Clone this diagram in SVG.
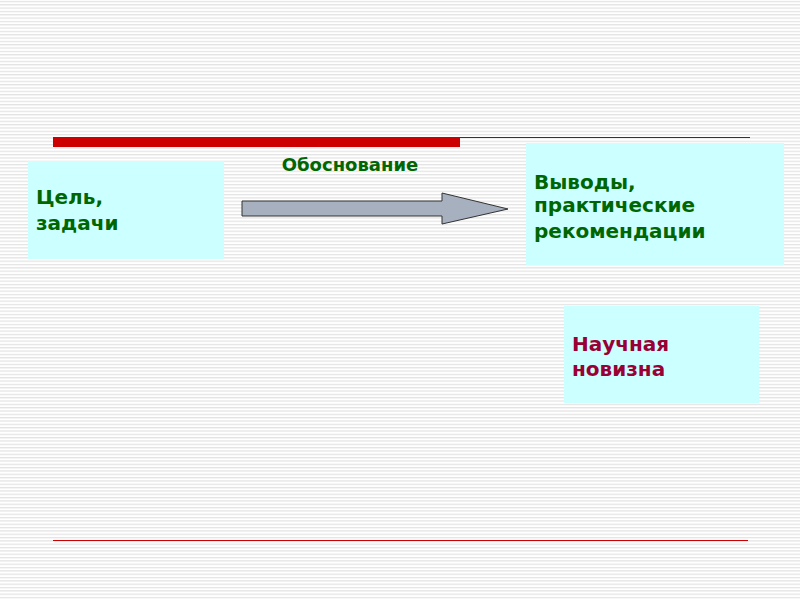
<svg xmlns="http://www.w3.org/2000/svg" width="800" height="600" viewBox="0 0 800 600">
<defs>
<pattern id="stripes" width="800" height="3.33" patternUnits="userSpaceOnUse">
<rect x="0" y="1" width="800" height="1" fill="#dcdcdc"/>
</pattern>
<style>
.box{fill:#ccffff}
.t{font-family:Verdana,"DejaVu Sans",sans-serif;font-weight:bold;font-size:20px;fill:#006600}
</style>
</defs>
<rect width="800" height="600" fill="#fff"/>
<rect width="800" height="600" fill="url(#stripes)"/>
<rect x="53" y="137" width="407" height="10" fill="#cc0000"/>
<line x1="460" y1="137.5" x2="750" y2="137.5" stroke="#b00000" stroke-width="1"/>
<line x1="53" y1="540.5" x2="748" y2="540.5" stroke="#cc0000" stroke-width="1"/>
<g id="goal"><rect class="box" x="28" y="161" width="196" height="98"/>
<text class="t" x="36" y="204">Цель,</text><text class="t" x="36" y="230">задачи</text></g>
<g id="conclusions"><rect class="box" x="526" y="143" width="258" height="122"/>
<text class="t" x="534" y="189">Выводы,</text><text class="t" x="534" y="212">практические</text><text class="t" x="534" y="238">рекомендации</text></g>
<g id="novelty"><rect class="box" x="564" y="306" width="195" height="97"/>
<text class="t" x="572" y="351" style="fill:#990033">Научная</text><text class="t" x="572" y="376" style="fill:#990033">новизна</text></g>
<g id="connectors">
<polygon points="242,201 442,201 442,193 508,209 442,224 442,216 242,216" fill="#a6b0bf" stroke="#333" stroke-width="1"/>
<text class="t" x="350" y="171" text-anchor="middle" style="font-size:18px">Обоснование</text>
</g>
</svg>
